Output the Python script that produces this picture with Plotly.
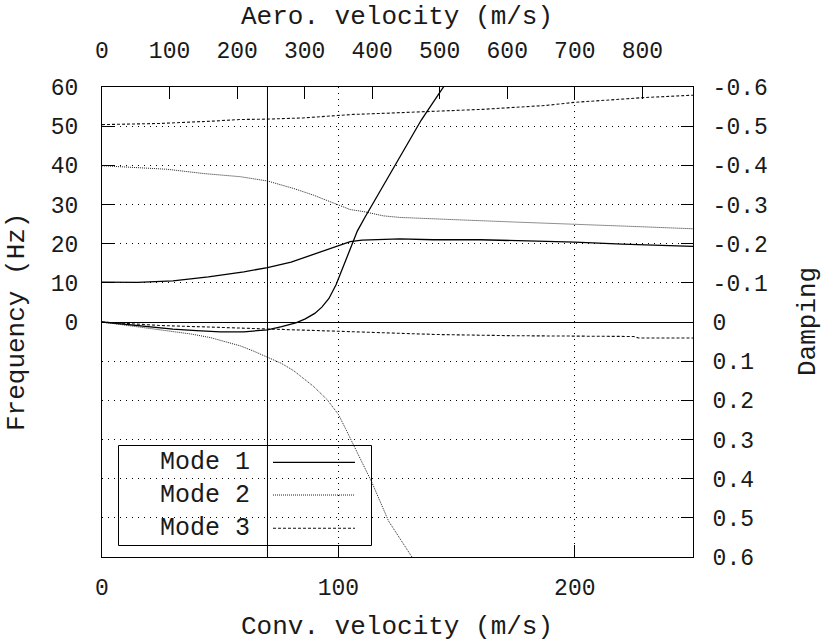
import plotly.graph_objects as go

# ---------------- data ----------------
# Mode 1
m1_freq_v = [0, 15, 30, 45, 60, 70, 80, 90, 100, 105, 110, 120, 126, 140, 160, 180, 200, 220, 240, 250]
m1_freq = [10.2, 10.1, 10.5, 11.5, 12.8, 13.9, 15.3, 17.4, 19.6, 20.5, 20.9, 21.0, 21.2, 21.0, 21.0, 20.7, 20.4, 19.9, 19.5, 19.3]
m1_damp_v = [0, 10, 20, 30, 40, 50, 60, 70, 76, 82, 86, 90, 93, 96, 99, 102, 105, 108, 111, 115,
             120, 125, 130, 135, 140, 145]
m1_damp = [0, 0.006, 0.012, 0.018, 0.022, 0.025, 0.025, 0.02, 0.012, 0.002, -0.008, -0.022, -0.038,
           -0.06, -0.095, -0.14, -0.19, -0.232, -0.265, -0.307, -0.36, -0.41, -0.465, -0.515, -0.56, -0.605]
# Mode 2
m2_freq_v = [0, 15, 27.5, 43, 58.5, 70, 81, 89.4, 96.6, 100, 105, 110.6, 119, 126, 140, 154.4, 175.5, 195, 213.6, 229, 250]
m2_freq = [39.9, 39.5, 39.0, 37.9, 37.1, 36.0, 34.1, 32.4, 30.7, 29.8, 28.7, 28.2, 27.1, 26.7, 26.3, 26.0, 25.5, 25.0, 24.7, 24.3, 23.8]
m2_damp_v = [0, 15, 29, 38, 46, 52, 58.5, 64, 70, 76, 81, 85, 89.4, 95.2, 100, 103, 106.4, 110, 114.2, 121.2, 131.1, 133]
m2_damp = [0, 0.012, 0.024, 0.031, 0.04, 0.05, 0.061, 0.074, 0.089, 0.106, 0.124, 0.142, 0.164, 0.198,
           0.236, 0.272, 0.315, 0.36, 0.41, 0.508, 0.6, 0.625]
# Mode 3
m3_freq_v = [0, 25, 47, 58.5, 70, 85, 96.6, 106.4, 120, 139, 161, 188, 200, 215, 229, 250]
m3_freq = [50.4, 50.7, 51.3, 51.7, 51.8, 52.1, 52.6, 53.0, 53.3, 53.8, 54.3, 55.3, 56.1, 56.7, 57.3, 57.9]
m3_damp_v = [0, 25, 46, 70, 86, 100, 118, 142, 174, 225, 227, 250]
m3_damp = [0, 0.009, 0.013, 0.018, 0.02, 0.024, 0.028, 0.032, 0.035, 0.037, 0.041, 0.041]

flutter_speed = [70]
mode_names = ["Mode 1", "Mode 2", "Mode 3"]

conv_ticks = [0, 100, 200]
aero_ticks = [0, 100, 200, 300, 400, 500, 600, 700, 800]
freq_ticks = [0, 10, 20, 30, 40, 50, 60]
damp_ticks = [-0.6, -0.5, -0.4, -0.3, -0.2, -0.1, 0, 0.1, 0.2, 0.3, 0.4, 0.5, 0.6]
damp_labels = ["-0.6", "-0.5", "-0.4", "-0.3", "-0.2", "-0.1", "0",
               "0.1", "0.2", "0.3", "0.4", "0.5", "0.6"]
conv_range = [0, 250]
aero_range = [0, 875]
freq_range = [-60, 60]
damp_range = [0.6, -0.6]

# ---------------- styles ----------------
FONT = "Liberation Mono"
TICK_SIZE = 23
TEXT_COLOR = "#1a1a1a"
styles = [dict(color="#000", width=1.3, dash="solid"),
          dict(color="#222", width=1.0, dash="1px,1px"),
          dict(color="#111", width=1.1, dash="3px,2px")]

fig = go.Figure()
series = [(m1_freq_v, m1_freq, m1_damp_v, m1_damp),
          (m2_freq_v, m2_freq, m2_damp_v, m2_damp),
          (m3_freq_v, m3_freq, m3_damp_v, m3_damp)]
for name, st, (fv, f, dv, d) in zip(mode_names, styles, series):
    fig.add_trace(go.Scatter(x=fv, y=f, mode="lines", line=st, name=name,
                             xaxis="x", yaxis="y", showlegend=False, hoverinfo="skip"))
    fig.add_trace(go.Scatter(x=dv, y=d, mode="lines", line=st, name=name,
                             xaxis="x", yaxis="y2", showlegend=False, hoverinfo="skip"))

# invisible trace to attach the top (aero velocity) axis
fig.add_trace(go.Scatter(x=aero_ticks, y=[None] * len(aero_ticks), xaxis="x2", yaxis="y",
                         mode="lines", showlegend=False, hoverinfo="skip"))

axis_common = dict(showline=True, linecolor="#000", linewidth=1, ticks="inside", ticklen=12,
                   tickcolor="#000", tickwidth=1,
                   tickfont=dict(family=FONT, size=TICK_SIZE, color=TEXT_COLOR))

fig.update_layout(
    width=823, height=643,
    margin=dict(l=102, r=130, t=87, b=86, autoexpand=False),
    paper_bgcolor="white", plot_bgcolor="white",
    showlegend=False,
    xaxis=dict(range=conv_range, tickvals=conv_ticks, showgrid=True, gridcolor="#000",
               griddash="1px,5px", gridwidth=1, zeroline=False, ticklabelstandoff=9,
               **axis_common),
    xaxis2=dict(range=aero_range, tickvals=aero_ticks, overlaying="x", side="top",
                anchor="y", showgrid=False, zeroline=False, ticklabelstandoff=19,
                **axis_common),
    yaxis=dict(range=freq_range, tickvals=freq_ticks, showgrid=False, zeroline=False,
               ticklabelstandoff=18, **axis_common),
    yaxis2=dict(range=damp_range, tickvals=damp_ticks, ticktext=damp_labels, overlaying="y",
                side="right", anchor="x", showgrid=True, gridcolor="#000", griddash="1px,5px",
                gridwidth=1, zeroline=True, zerolinecolor="#000", zerolinewidth=1,
                ticklabelstandoff=14, **axis_common),
)

# flutter-speed marker line
fig.add_shape(type="line", xref="x", yref="paper", x0=flutter_speed[0], x1=flutter_speed[0],
              y0=0, y1=1, line=dict(color="#000", width=1), layer="above")

# ---------------- legend (gnuplot style: text left, sample right) ----------------
W, H = 591.0, 470.0
def px(xp):
    return (xp - 102) / W
def py(yp):
    return (557 - yp) / H

fig.add_shape(type="rect", xref="paper", yref="paper", x0=px(118.5), x1=px(371.5),
              y0=py(545.5), y1=py(445.5), line=dict(color="#000", width=1),
              fillcolor="white", layer="between")
rows = [462.3, 495.0, 528.3]
for name, st, ry in zip(mode_names, styles, rows):
    fig.add_annotation(xref="paper", yref="paper", x=px(252), y=py(ry), text=name,
                       showarrow=False, xanchor="right", yanchor="middle",
                       font=dict(family=FONT, size=25, color=TEXT_COLOR))
    fig.add_shape(type="line", xref="paper", yref="paper", x0=px(273), x1=px(355),
                  y0=py(ry), y1=py(ry), line=st, layer="above")

# ---------------- axis titles ----------------
title_font = dict(family=FONT, size=26, color=TEXT_COLOR)
fig.add_annotation(xref="paper", yref="paper", x=px(397), y=py(17), text="Aero. velocity (m/s)",
                   showarrow=False, xanchor="center", yanchor="middle", font=title_font)
fig.add_annotation(xref="paper", yref="paper", x=px(397), y=py(627), text="Conv. velocity (m/s)",
                   showarrow=False, xanchor="center", yanchor="middle", font=title_font)
fig.add_annotation(xref="paper", yref="paper", x=px(17), y=py(322), text="Frequency (Hz)",
                   showarrow=False, xanchor="center", yanchor="middle", textangle=-90,
                   font=title_font)
fig.add_annotation(xref="paper", yref="paper", x=px(808), y=py(322), text="Damping",
                   showarrow=False, xanchor="center", yanchor="middle", textangle=-90,
                   font=title_font)

fig.write_html("out.html")
